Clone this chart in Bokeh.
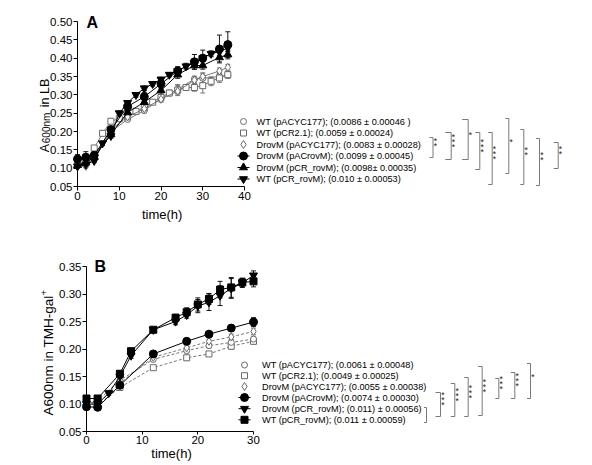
import math
from bokeh.plotting import figure
from bokeh.layouts import column
from bokeh.models import (Range1d, ColumnDataSource, Whisker, TeeHead, LinearAxis,
                          FixedTicker, NumeralTickFormatter)
from bokeh.embed import file_html
from bokeh.resources import INLINE
from bokeh.core.properties import value

FONT = "Liberation Sans"

# ---------------- Panel A data (LB) ----------------
a_t_full = [0, 2, 4, 6, 8, 10, 12, 14, 16, 18, 20, 22, 24, 26, 28, 30, 32, 34, 36]
a_t_part = [0, 2, 4, 8, 12, 16, 20, 24, 28, 30, 34, 36]

a_wt_pacyc = [0.112, 0.112, 0.125, 0.200, 0.233, 0.257, 0.290, 0.315, 0.343, 0.345, 0.350, 0.353]
a_wt_pacyc_err = [0.005, 0.005, 0.005, 0.008, 0.006, 0.006, 0.008, 0.010, 0.008, 0.012, 0.010, 0.008]

a_wt_pcr21 = [0.110, 0.115, 0.155, 0.195, 0.228, 0.235, 0.240, 0.255, 0.265, 0.280, 0.293, 0.305,
              0.313, 0.320, 0.320, 0.325, 0.337, 0.346, 0.355]
a_wt_pcr21_err = [0.005, 0.005, 0.005, 0.006, 0.006, 0.006, 0.006, 0.006, 0.006, 0.006, 0.008, 0.008,
                  0.015, 0.008, 0.010, 0.020, 0.012, 0.012, 0.008]

a_d_pacyc = [0.105, 0.105, 0.130, 0.205, 0.240, 0.262, 0.288, 0.310, 0.340, 0.350, 0.365, 0.375]
a_d_pacyc_err = [0.004, 0.004, 0.005, 0.006, 0.006, 0.006, 0.008, 0.008, 0.008, 0.010, 0.008, 0.008]

a_d_pacrovm = [0.125, 0.130, 0.135, 0.205, 0.268, 0.295, 0.330, 0.365, 0.390, 0.400, 0.425, 0.437]
a_d_pacrovm_err = [0.012, 0.015, 0.010, 0.010, 0.010, 0.012, 0.012, 0.012, 0.020, 0.022, 0.038, 0.035]

a_d_pcrrovm = [0.108, 0.115, 0.130, 0.192, 0.252, 0.280, 0.312, 0.355, 0.380, 0.380, 0.402, 0.410]
a_d_pcrrovm_err = [0.006, 0.006, 0.006, 0.008, 0.008, 0.010, 0.010, 0.010, 0.010, 0.010, 0.012, 0.012]

a_wt_pcrrovm = [0.105, 0.110, 0.120, 0.168, 0.188, 0.250, 0.278, 0.300, 0.318, 0.330, 0.342, 0.355,
                0.365, 0.378, 0.387, 0.400, 0.412, 0.418, 0.428]
a_wt_pcrrovm_err = [0.005, 0.005, 0.005, 0.006, 0.006, 0.006, 0.006, 0.006, 0.006, 0.006, 0.006, 0.006,
                    0.008, 0.008, 0.008, 0.008, 0.008, 0.010, 0.010]

a_labels = ["WT (pACYC177); (0.0086 \u00b1 0.00046 )",
            "WT (pCR2.1); (0.0059 \u00b1 0.00024)",
            "DrovM (pACYC177); (0.0083 \u00b1 0.00028)",
            "DrovM (pACrovM); (0.0099 \u00b1 0.00045)",
            "DrovM (pCR_rovM); (0.0098\u00b1 0.00035)",
            "WT (pCR_rovM); (0.010 \u00b1 0.00053)"]
a_xticks = [0, 10, 20, 30, 40]
a_yticks = [0.05, 0.10, 0.15, 0.20, 0.25, 0.30, 0.35, 0.40, 0.45, 0.50]

# ---------------- Panel B data (TMH-gal+) ----------------
b_t_part = [0, 2, 6, 12, 18, 22, 26, 30]
b_wt_pacyc = [0.100, 0.106, 0.143, 0.181, 0.197, 0.206, 0.212, 0.218]
b_wt_pacyc_err = [0.005, 0.005, 0.004, 0.004, 0.004, 0.004, 0.005, 0.005]
b_wt_pcr21 = [0.100, 0.098, 0.130, 0.166, 0.184, 0.191, 0.205, 0.214]
b_wt_pcr21_err = [0.005, 0.005, 0.004, 0.004, 0.004, 0.004, 0.005, 0.005]
b_d_pacyc = [0.105, 0.100, 0.138, 0.185, 0.202, 0.214, 0.222, 0.232]
b_d_pacyc_err = [0.005, 0.005, 0.004, 0.004, 0.004, 0.004, 0.005, 0.006]
b_d_pacrovm = [0.095, 0.094, 0.134, 0.191, 0.214, 0.227, 0.238, 0.249]
b_d_pacrovm_err = [0.005, 0.005, 0.004, 0.004, 0.004, 0.004, 0.005, 0.008]

b_t_tri = [0, 2, 4, 6, 8, 12, 16, 18, 20, 22, 24, 26, 28, 30]
b_d_pcrrovm = [0.100, 0.100, 0.120, 0.150, 0.188, 0.235, 0.250, 0.262, 0.278, 0.285, 0.297,
               0.310, 0.320, 0.334]
b_d_pcrrovm_err = [0.005, 0.005, 0.004, 0.005, 0.005, 0.004, 0.006, 0.006, 0.012, 0.015,
                   0.018, 0.018, 0.008, 0.008]

b_t_sq = [0, 2, 6, 8, 12, 16, 18, 20, 22, 24, 26, 28, 30]
b_wt_pcrrovm = [0.110, 0.110, 0.155, 0.196, 0.235, 0.257, 0.267, 0.281, 0.291, 0.308, 0.312,
                0.321, 0.323]
b_wt_pcrrovm_err = [0.004, 0.004, 0.005, 0.005, 0.004, 0.006, 0.008, 0.012, 0.010, 0.015,
                    0.018, 0.008, 0.010]

b_labels = ["WT (pACYC177); (0.0061 \u00b1 0.00048)",
            "WT (pCR2.1); (0.0049 \u00b1 0.00025)",
            "DrovM (pACYC177); (0.0055 \u00b1 0.00038)",
            "DrovM (pACrovM); (0.0074 \u00b1 0.00030)",
            "DrovM (pCR_rovM); (0.011) \u00b1 0.00056)",
            "WT (pCR_rovM); (0.011 \u00b1 0.00059)"]
b_xticks = [0, 10, 20, 30]
b_yticks = [0.05, 0.10, 0.15, 0.20, 0.25, 0.30, 0.35]

# significance brackets: (x px, top px, bottom px, tick px, number of stars)
a_brackets = [(432.5, 137, 157, 3.5, 2), (450.7, 132, 159, 6, 3), (467.7, 119, 159, 6, 1),
              (479.3, 132, 169, 4.5, 3), (491.7, 132, 184, 4, 3), (508.3, 118, 173, 3.5, 1),
              (523.3, 129, 184, 3.5, 2), (539.0, 138, 185, 3.5, 2), (557.7, 142, 168, 4.5, 2)]
b_brackets = [(426.0, 407, 422, 2.5, 0), (440.0, 392, 416, 5, 3), (454.3, 383, 416, 4, 3),
              (467.7, 377, 416, 4, 3), (481.7, 366, 415, 4, 3), (498.3, 378, 398, 3.5, 3),
              (514.3, 372, 398, 4, 3), (530.0, 363, 398, 3.5, 1)]

OPEN_C = "#6a6a6a"
PAGE_X0, PAGE_X1 = 0, 584


class Panel:
    """Maps reference-picture pixels to data units for one panel figure."""

    def __init__(self, y0, y1, x0px, x1px, xspan, ytop_px, ybot_px, ymin, ymax):
        self.y0, self.y1 = y0, y1
        self.x0px, self.kx = x0px, xspan / float(x1px - x0px)
        self.ytop_px, self.ky = ytop_px, (ymax - ymin) / float(ybot_px - ytop_px)
        self.ymax = ymax

    def x(self, px):
        return (px - self.x0px) * self.kx

    def y(self, py):
        return self.ymax - (py - self.ytop_px) * self.ky


def make_fig(P, xmax, ymin, ymax, xticks, yticks, xtick_out):
    p = figure(width=PAGE_X1 - PAGE_X0, height=P.y1 - P.y0, output_backend="svg",
               toolbar_location=None, x_axis_type=None, y_axis_type=None, min_border=0,
               x_range=Range1d(P.x(PAGE_X0), P.x(PAGE_X1)),
               y_range=Range1d(P.y(P.y1), P.y(P.y0)))
    p.outline_line_color = None
    p.grid.visible = False
    xax = LinearAxis(fixed_location=ymin, bounds=(0, xmax), ticker=FixedTicker(ticks=xticks))
    yax = LinearAxis(fixed_location=0, bounds=(ymin, ymax), ticker=FixedTicker(ticks=yticks),
                     formatter=NumeralTickFormatter(format="0.00"))
    for axm in (xax, yax):
        axm.axis_line_color = "black"
        axm.major_tick_line_color = "black"
        axm.major_tick_in = 0
        axm.minor_tick_line_color = None
        axm.major_label_text_font = FONT
        axm.major_label_text_font_size = "11.5px"
        axm.major_label_text_color = "black"
    yax.major_tick_out = 4
    yax.major_label_standoff = 1
    xax.major_tick_out = xtick_out
    xax.major_label_standoff = 1
    p.add_layout(xax, "below")
    p.add_layout(yax, "left")
    return p


def draw_series(p, t, y, err, marker, filled, dashed, size):
    lc = "black" if filled else OPEN_C
    fc = "black" if filled else "white"
    src = ColumnDataSource(dict(t=t, y=y, lo=[a - b for a, b in zip(y, err)],
                                up=[a + b for a, b in zip(y, err)]))
    p.line("t", "y", source=src, line_color=lc, line_width=1.0 if filled else 0.9,
           line_dash="3 2" if dashed else "solid")
    w = Whisker(base="t", lower="lo", upper="up", source=src, dimension="height",
                line_color=lc, line_width=0.9,
                upper_head=TeeHead(size=5, line_color=lc, line_width=0.9),
                lower_head=TeeHead(size=5, line_color=lc, line_width=0.9))
    w.level = "underlay"
    p.add_layout(w)
    p.scatter("t", "y", source=src, marker=marker, size=size, line_color=lc,
              fill_color=fc, line_width=1.0)


def draw_legend(p, P, mpx, tpx, rows, styles, labels):
    for py, (marker, filled, size) in zip(rows, styles):
        lc = "black" if filled else OPEN_C
        fc = "black" if filled else "white"
        if filled:
            p.segment(x0=[P.x(mpx - 6)], y0=[P.y(py)], x1=[P.x(mpx + 6)], y1=[P.y(py)],
                      line_color="black", line_width=1)
        p.scatter(x=[P.x(mpx)], y=[P.y(py)], marker=marker, size=size, line_color=lc,
                  fill_color=fc, line_width=1)
    p.text(x=[P.x(tpx)] * len(rows), y=[P.y(r) for r in rows], text=labels,
           text_font=value(FONT), text_font_size="9.2px", text_baseline="middle",
           text_align="left", text_color="black")


def draw_brackets(p, P, brackets):
    xs, ys, sx, sy = [], [], [], []
    for xv, top, bot, tk, n in brackets:
        xs.append([P.x(xv - tk), P.x(xv), P.x(xv), P.x(xv - tk)])
        ys.append([P.y(top), P.y(top), P.y(bot), P.y(bot)])
        mid = (top + bot) / 2.0 - 7
        for k in range(n):
            off = (k - (n - 1) / 2.0) * 5.0
            sx.append(P.x(xv + 2.3))
            sy.append(P.y(mid + off + 2.5))
    p.multi_line(xs, ys, line_color="#7a7a7a", line_width=1)
    if sx:
        p.text(x=sx, y=sy, text=["*"] * len(sx), text_font=value(FONT),
               text_font_size="8.5px", text_baseline="middle", text_align="center",
               text_color="#222222")


def txt(p, P, px, py, text, size, angle=0.0, bold=False, align="left", baseline="alphabetic"):
    p.text(x=[P.x(px)], y=[P.y(py)], text=[text], angle=angle, text_font=value(FONT),
           text_font_size=size, text_font_style="bold" if bold else "normal",
           text_align=align, text_baseline=baseline, text_color="black")


# ---------------- Panel A ----------------
PA = Panel(0, 222, 77, 244, 40, 21, 186, 0.05, 0.50)
pA = make_fig(PA, 40, 0.05, 0.50, a_xticks, a_yticks, 4)

draw_series(pA, a_t_part, a_wt_pacyc, a_wt_pacyc_err, "circle", False, False, 6)
draw_series(pA, a_t_full, a_wt_pcr21, a_wt_pcr21_err, "square", False, False, 6)
draw_series(pA, a_t_part, a_d_pacyc, a_d_pacyc_err, "diamond", False, False, 8)
draw_series(pA, a_t_full, a_wt_pcrrovm, a_wt_pcrrovm_err, "inverted_triangle", True, False, 8)
draw_series(pA, a_t_part, a_d_pcrrovm, a_d_pcrrovm_err, "triangle", True, False, 8)
draw_series(pA, a_t_part, a_d_pacrovm, a_d_pacrovm_err, "circle", True, False, 8)

a_rows = [121, 132.5, 144, 155.5, 167, 178.5]
a_styles = [("circle", False, 6), ("square", False, 6), ("diamond", False, 8),
            ("circle", True, 8), ("triangle", True, 8), ("inverted_triangle", True, 8)]
draw_legend(pA, PA, 243, 256, a_rows, a_styles, a_labels)
draw_brackets(pA, PA, a_brackets)

txt(pA, PA, 86, 22, "A", "16px", bold=True)
txt(pA, PA, 161.7, 214.3, "time(h)", "13px", align="center")
txt(pA, PA, 44, 151.7, "A", "12.5px", angle=math.pi / 2)
txt(pA, PA, 45.5, 142.7, "600nm", "10px", angle=math.pi / 2)
txt(pA, PA, 44, 106.7, "in LB", "12.5px", angle=math.pi / 2)

# ---------------- Panel B ----------------
PB = Panel(222, 462, 86, 253, 30, 266, 431, 0.05, 0.35)
pB = make_fig(PB, 30, 0.05, 0.35, b_xticks, b_yticks, 3)

draw_series(pB, b_t_part, b_wt_pcr21, b_wt_pcr21_err, "square", False, True, 6)
draw_series(pB, b_t_part, b_wt_pacyc, b_wt_pacyc_err, "circle", False, True, 6)
draw_series(pB, b_t_part, b_d_pacyc, b_d_pacyc_err, "diamond", False, True, 8)
draw_series(pB, b_t_part, b_d_pacrovm, b_d_pacrovm_err, "circle", True, False, 8)
draw_series(pB, b_t_tri, b_d_pcrrovm, b_d_pcrrovm_err, "inverted_triangle", True, False, 8)
draw_series(pB, b_t_sq, b_wt_pcrrovm, b_wt_pcrrovm_err, "square", True, False, 7)

b_rows = [364.5, 375.2, 386, 397, 408.2, 419.3]
b_styles = [("circle", False, 6), ("square", False, 6), ("diamond", False, 8),
            ("circle", True, 8), ("inverted_triangle", True, 8), ("square", True, 7)]
draw_legend(pB, PB, 244, 261.5, b_rows, b_styles, b_labels)
draw_brackets(pB, PB, b_brackets)

txt(pB, PB, 94, 266, "B", "16px", bold=True)
txt(pB, PB, 171, 452.5, "time(h)", "13px", align="center")
txt(pB, PB, 48, 415, "A600nm in TMH-gal", "13.5px", angle=math.pi / 2)
txt(pB, PB, 43.5, 295, "+", "9.5px", angle=math.pi / 2)

layout = column(pA, pB)
open("out.html", "w").write(file_html(layout, INLINE))
